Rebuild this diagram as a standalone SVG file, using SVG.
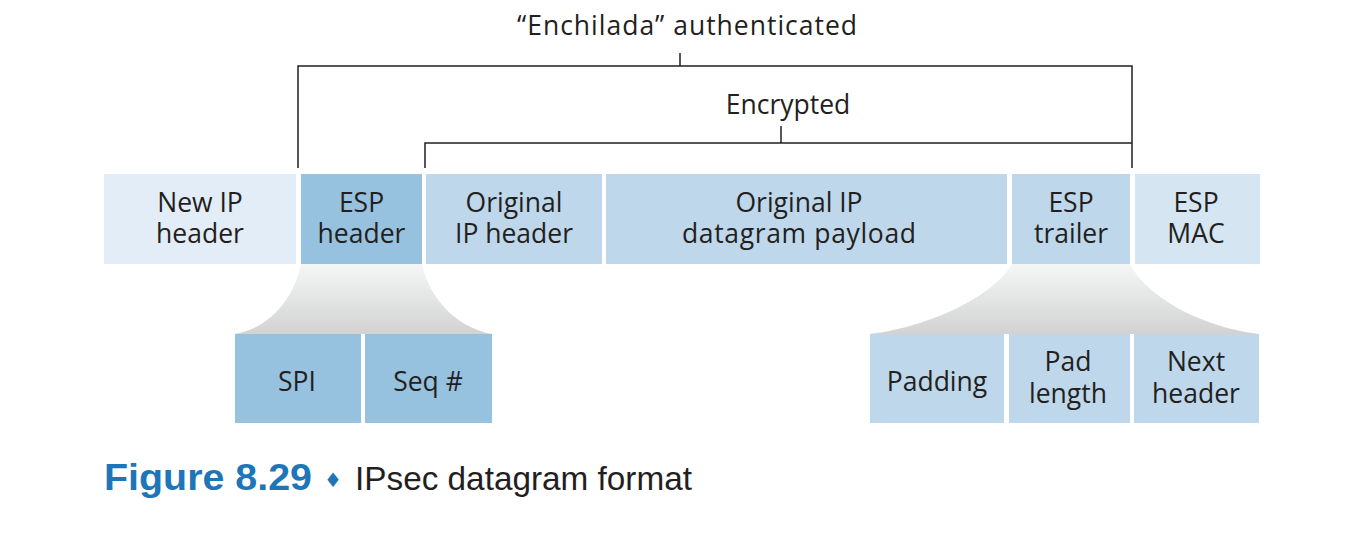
<svg xmlns="http://www.w3.org/2000/svg" width="1354" height="543" viewBox="0 0 1354 543">
  <style>
    .lbl { font-family: "Open Sans", "Noto Sans", sans-serif; font-size: 26.5px; fill: #231f20; text-anchor: middle; }
    .br { fill: none; stroke: #231f20; stroke-width: 1.5; }
    .c-light { fill: #e3edf7; }
    .c-dark { fill: #96c1df; }
    .c-mid { fill: #bed7eb; }
    .c-mac { fill: #d5e5f2; }
    .fan { fill: url(#fanGrad); }
  </style>
  <defs>
    <linearGradient id="fanGrad" x1="0" y1="0" x2="0" y2="1">
      <stop offset="0" stop-color="#f5f6f6"/>
      <stop offset="1" stop-color="#d2d2d2"/>
    </linearGradient>
  </defs>

  <rect width="1354" height="543" fill="#ffffff"/>

  <!-- bracket labels -->
  <text class="lbl" x="687" y="35" textLength="340">“Enchilada” authenticated</text>
  <text class="lbl" x="788" y="114">Encrypted</text>

  <!-- brackets -->
  <g id="connectors">
    <path class="br" d="M680,53 V66 M298,168 V66 H1132 V168"/>
    <path class="br" d="M781,126 V143 M425,168 V143 H1132"/>
  </g>

  <!-- expansion fans -->
  <path class="fan" d="M301,264 H422 C428,295 454,327 492,334 H235 C273,327 295,295 301,264 Z"/>
  <path class="fan" d="M1012,264 H1130 C1146,296 1200,327 1259,334 H870 C929,327 994,296 1012,264 Z"/>

  <!-- top row -->
  <g id="new-ip-header">
    <rect class="c-light" x="104" y="174" width="192" height="90"/>
    <text class="lbl" x="200" y="212">New IP</text>
    <text class="lbl" x="200" y="243">header</text>
  </g>
  <g id="esp-header">
    <rect class="c-dark" x="301" y="174" width="121" height="90"/>
    <text class="lbl" x="361.5" y="212">ESP</text>
    <text class="lbl" x="361.5" y="243">header</text>
  </g>
  <g id="original-ip-header">
    <rect class="c-mid" x="426" y="174" width="176" height="90"/>
    <text class="lbl" x="514" y="212">Original</text>
    <text class="lbl" x="514" y="243">IP header</text>
  </g>
  <g id="payload">
    <rect class="c-mid" x="606" y="174" width="401" height="90"/>
    <text class="lbl" x="799" y="212">Original IP</text>
    <text class="lbl" x="799" y="243" textLength="234">datagram payload</text>
  </g>
  <g id="esp-trailer">
    <rect class="c-mid" x="1012" y="174" width="118" height="90"/>
    <text class="lbl" x="1071" y="212">ESP</text>
    <text class="lbl" x="1071" y="243">trailer</text>
  </g>
  <g id="esp-mac">
    <rect class="c-mac" x="1135" y="174" width="125" height="90"/>
    <text class="lbl" x="1196" y="212">ESP</text>
    <text class="lbl" x="1196" y="243">MAC</text>
  </g>

  <!-- ESP header fields -->
  <g id="spi">
    <rect class="c-dark" x="235" y="334" width="126" height="89"/>
    <text class="lbl" x="297" y="391">SPI</text>
  </g>
  <g id="seq">
    <rect class="c-dark" x="365" y="334" width="127" height="89"/>
    <text class="lbl" x="428" y="391">Seq #</text>
  </g>

  <!-- ESP trailer fields -->
  <g id="padding">
    <rect class="c-mid" x="870" y="334" width="134" height="89"/>
    <text class="lbl" x="937" y="391">Padding</text>
  </g>
  <g id="pad-length">
    <rect class="c-mid" x="1009" y="334" width="121" height="89"/>
    <text class="lbl" x="1068" y="371">Pad</text>
    <text class="lbl" x="1068" y="403">length</text>
  </g>
  <g id="next-header">
    <rect class="c-mid" x="1134" y="334" width="125" height="89"/>
    <text class="lbl" x="1196" y="371">Next</text>
    <text class="lbl" x="1196" y="403">header</text>
  </g>

  <!-- caption -->
  <text x="104" y="490" font-family="'Liberation Sans', sans-serif" font-weight="bold" font-size="37" fill="#1d76b8" textLength="208" lengthAdjust="spacingAndGlyphs">Figure 8.29</text>
  <text x="333" y="487" font-family="'DejaVu Sans', sans-serif" font-size="20" fill="#1d76b8" text-anchor="middle">♦</text>
  <text x="355" y="490" font-family="'Liberation Sans', sans-serif" font-size="33" fill="#231f20" textLength="337" lengthAdjust="spacingAndGlyphs">IPsec datagram format</text>
</svg>
